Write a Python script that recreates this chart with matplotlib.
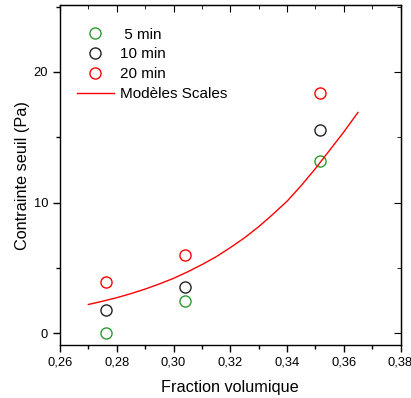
import matplotlib.pyplot as plt
from matplotlib.ticker import MultipleLocator, FuncFormatter

plt.rcParams['font.family'] = ['Liberation Sans', 'DejaVu Sans']

phi = [0.2762, 0.3042, 0.3517]
t5 = [0.0, 2.45, 13.2]
t10 = [1.8, 3.55, 15.55]
t20 = [3.9, 5.95, 18.4]

model_x = [0.270, 0.275, 0.280, 0.285, 0.290, 0.295, 0.300, 0.305, 0.310, 0.315,
           0.320, 0.325, 0.330, 0.335, 0.340, 0.345, 0.350, 0.355, 0.360, 0.365]
model_y = [2.2, 2.45, 2.72, 3.03, 3.38, 3.77, 4.2, 4.7, 5.25, 5.85,
           6.55, 7.3, 8.15, 9.1, 10.1, 11.3, 12.6, 14.0, 15.4, 16.9]

fig = plt.figure(figsize=(4.11, 3.98), dpi=100)
ax = fig.add_axes([0.146, 0.1332, 0.8285, 0.8535])

mk = dict(marker='o', linestyle='none', markersize=8, markerfacecolor='none', markeredgewidth=1.0)
ax.plot(phi, t5, markeredgecolor='#2e9a2e', label=' 5 min', **mk)
ax.plot(phi, t10, markeredgecolor='#222222', label='10 min', **mk)
ax.plot(phi, t20, markeredgecolor='red', label='20 min', **mk)
ax.plot(model_x, model_y, color='red', lw=1.0, label='Modèles Scales')

ax.set_xlim(0.26, 0.38)
ax.set_ylim(-0.9, 25.1)
ax.xaxis.set_major_locator(MultipleLocator(0.02))
ax.xaxis.set_minor_locator(MultipleLocator(0.01))
ax.yaxis.set_major_locator(MultipleLocator(10))
ax.yaxis.set_minor_locator(MultipleLocator(5))
ax.xaxis.set_major_formatter(FuncFormatter(lambda v, p: f"{v:.2f}".replace('.', ',')))
ax.tick_params(axis='both', which='both', labelsize=9.3, width=1)
ax.tick_params(which='major', length=5, direction='out')
ax.tick_params(which='minor', length=3, direction='out')

# inward ticks on top and right
top = ax.secondary_xaxis('top')
top.xaxis.set_major_locator(MultipleLocator(0.02))
top.xaxis.set_minor_locator(MultipleLocator(0.01))
top.tick_params(which='major', direction='in', length=5, labeltop=False)
top.tick_params(which='minor', direction='in', length=3)
right = ax.secondary_yaxis('right')
right.yaxis.set_major_locator(MultipleLocator(10))
right.yaxis.set_minor_locator(MultipleLocator(5))
right.tick_params(which='major', direction='in', length=5, labelright=False)
right.tick_params(which='minor', direction='in', length=3)

for s in ax.spines.values():
    s.set_linewidth(1.0)

ax.set_xlabel('Fraction volumique', fontsize=11.7, labelpad=8)
ax.set_ylabel('Contrainte seuil (Pa)', fontsize=11.7, labelpad=3)

ax.legend(loc='upper left', bbox_to_anchor=(0.01, 0.975), frameon=False, fontsize=11,
          handlelength=2.4, labelspacing=0.38, handletextpad=0.4)

fig.savefig('out.png', dpi=100)
